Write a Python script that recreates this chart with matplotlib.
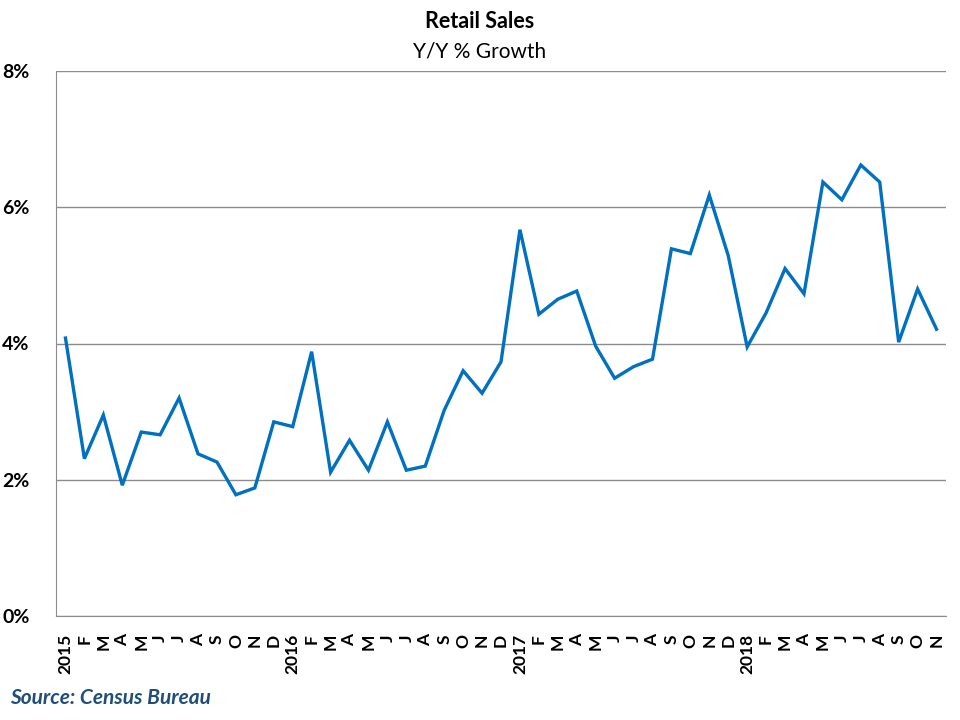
import matplotlib
matplotlib.use("Agg")
import matplotlib.pyplot as plt
import numpy as np

months = ["2015", "F", "M", "A", "M", "J", "J", "A", "S", "O", "N", "D",
          "2016", "F", "M", "A", "M", "J", "J", "A", "S", "O", "N", "D",
          "2017", "F", "M", "A", "M", "J", "J", "A", "S", "O", "N", "D",
          "2018", "F", "M", "A", "M", "J", "J", "A", "S", "O", "N"]
growth = [4.08, 2.31, 2.95, 1.92, 2.70, 2.66, 3.20, 2.38, 2.26, 1.78, 1.88, 2.85,
          2.78, 3.88, 2.11, 2.58, 2.14, 2.85, 2.14, 2.20, 3.02, 3.60, 3.27, 3.73,
          5.67, 4.43, 4.65, 4.77, 3.96, 3.49, 3.66, 3.77, 5.39, 5.32, 6.18, 5.29,
          3.95, 4.45, 5.10, 4.73, 6.37, 6.11, 6.62, 6.37, 4.02, 4.80, 4.21]
yticks = [0, 2, 4, 6, 8]

plt.rcParams['font.family'] = ['Lato', 'DejaVu Sans']

fig = plt.figure(figsize=(9.6, 7.2), dpi=100)
ax = fig.add_axes([56/960, 1-616/720, (946-56)/960, (616-71)/720])

x = np.arange(len(growth))
ax.plot(x, growth, color='#0070C0', lw=2.4, solid_joinstyle='miter', zorder=3)

ax.set_xlim(-0.5, len(growth)-0.5)
ax.set_ylim(0, 8)
ax.set_yticks(yticks)
ax.set_yticklabels([f"{v}%" for v in yticks], fontsize=14, fontweight='bold')
ax.grid(axis='y', color='#8c8c8c', lw=1)
ax.set_axisbelow(True)
ax.set_xticks(x)
ax.set_xticklabels(months, rotation=90, fontsize=12.5, fontweight='bold', va='top', ha='center')
ax.tick_params(axis='both', length=0)
ax.tick_params(axis='x', pad=13)
ax.tick_params(axis='y', pad=19)
for s in ['top', 'right']:
    ax.spines[s].set_visible(False)
ax.spines['left'].set_color('#8c8c8c')
ax.spines['bottom'].set_color('#8c8c8c')

fig.text(0.5, 1-22/720, "Retail Sales", ha='center', va='center', fontsize=15.5, fontweight='bold')
fig.text(0.5, 1-52/720, "Y/Y % Growth", ha='center', va='center', fontsize=15)
fig.text(10/960, 1-698/720, "Source: Census Bureau", ha='left', va='center',
         fontsize=15, fontweight='bold', style='italic', color='#1F4E79')

fig.savefig("out.png", dpi=100)
